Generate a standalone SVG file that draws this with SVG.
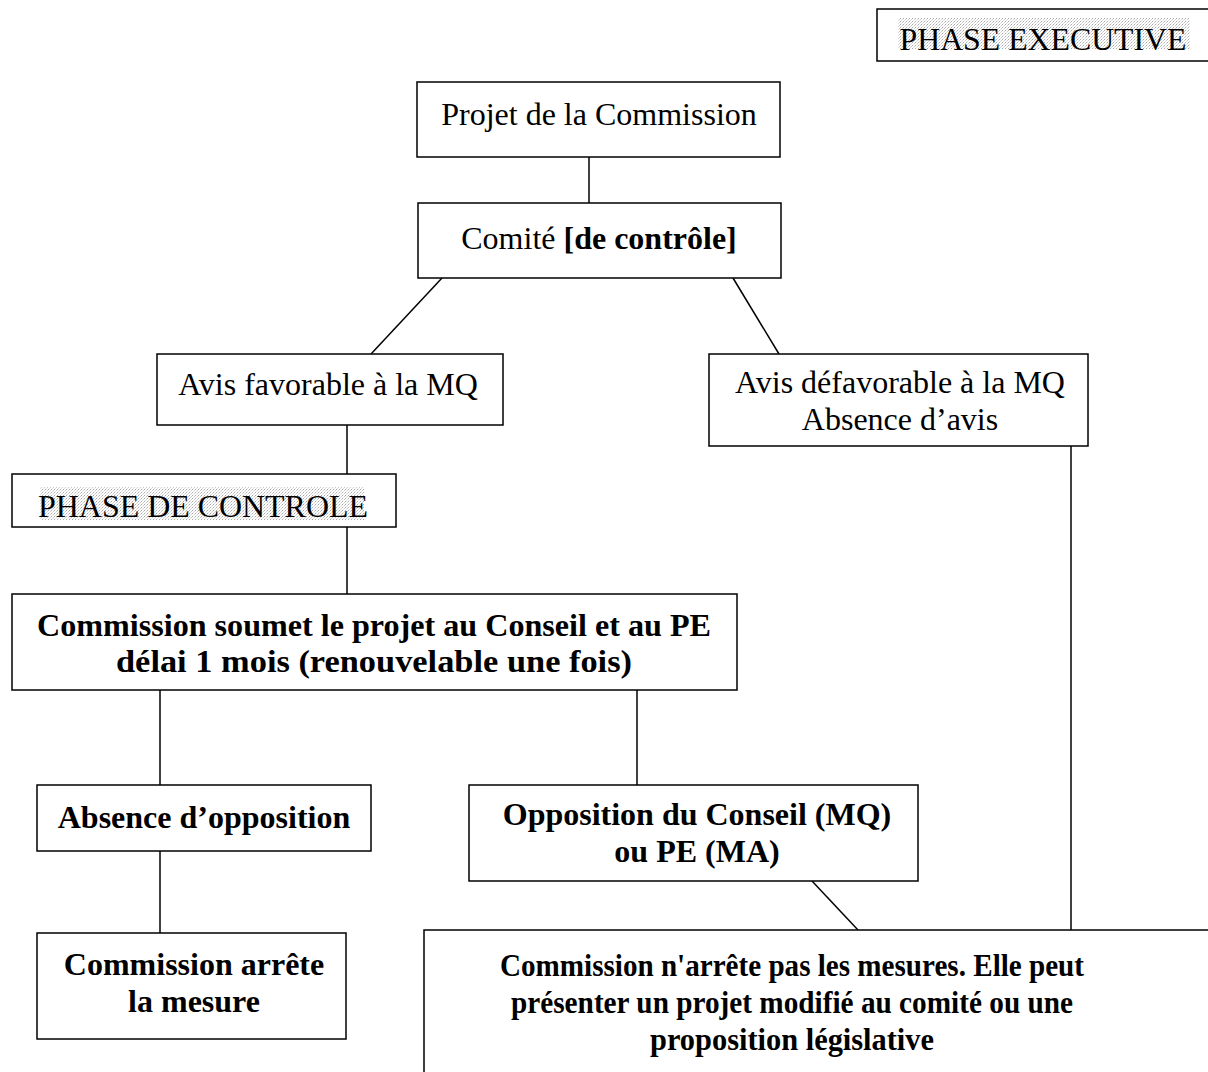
<svg xmlns="http://www.w3.org/2000/svg" width="1208" height="1072" viewBox="0 0 1208 1072">
<defs>
<pattern id="dots" width="3" height="3" patternUnits="userSpaceOnUse">
<rect width="3" height="3" fill="#fff"/>
<rect x="0" y="0" width="1" height="1" fill="#aaa"/>
<rect x="2" y="1" width="1" height="1" fill="#ccc"/>
<rect x="1" y="2" width="1" height="1" fill="#ddd"/>
</pattern>
</defs>
<style>
.box{fill:#fff;stroke:#000;stroke-width:1.5}
.ln{stroke:#000;stroke-width:1.5;fill:none}
.t{font-family:"Liberation Serif","Times New Roman",serif;font-size:32px;fill:#000;text-anchor:middle}
.b{font-family:"Liberation Serif","Times New Roman",serif;font-size:32px;font-weight:bold;fill:#000;text-anchor:middle}
.shade{fill:url(#dots)}
</style>
<rect width="1208" height="1072" fill="#fff"/>
<g id="connectors">
<line class="ln" x1="589" y1="157" x2="589" y2="203"/>
<line class="ln" x1="442" y1="278" x2="371" y2="354"/>
<line class="ln" x1="733" y1="278" x2="779" y2="354"/>
<line class="ln" x1="347" y1="425" x2="347" y2="474"/>
<line class="ln" x1="347" y1="527" x2="347" y2="594"/>
<line class="ln" x1="160" y1="690" x2="160" y2="785"/>
<line class="ln" x1="637" y1="690" x2="637" y2="785"/>
<line class="ln" x1="160" y1="851" x2="160" y2="933"/>
<line class="ln" x1="812" y1="881" x2="858" y2="930"/>
<line class="ln" x1="1071" y1="446" x2="1071" y2="930"/>
</g>
<g id="phase-executive">
<rect class="box" x="877" y="9" width="340" height="52"/>
<rect class="shade" x="898" y="18" width="292" height="31"/>
<text class="t" x="1043" y="50" textLength="287" lengthAdjust="spacingAndGlyphs">PHASE EXECUTIVE</text>
</g>
<g id="projet">
<rect class="box" x="417" y="82" width="363" height="75"/>
<text class="t" x="599" y="125">Projet de la Commission</text>
</g>
<g id="comite">
<rect class="box" x="418" y="203" width="363" height="75"/>
<text class="t" x="599" y="249">Comité <tspan font-weight="bold">[de contrôle]</tspan></text>
</g>
<g id="avis-favorable">
<rect class="box" x="157" y="354" width="346" height="71"/>
<text class="t" x="328" y="395">Avis favorable à la MQ</text>
</g>
<g id="avis-defavorable">
<rect class="box" x="709" y="354" width="379" height="92"/>
<text class="t" x="900" y="393">Avis défavorable à la MQ</text>
<text class="t" x="900" y="430">Absence d’avis</text>
</g>
<g id="phase-controle">
<rect class="box" x="12" y="474" width="384" height="53"/>
<rect class="shade" x="40" y="487" width="324" height="33"/>
<text class="t" x="203" y="517" textLength="330" lengthAdjust="spacingAndGlyphs">PHASE DE CONTROLE</text>
</g>
<g id="commission-soumet">
<rect class="box" x="12" y="594" width="725" height="96"/>
<text class="b" x="374" y="636" textLength="674" lengthAdjust="spacingAndGlyphs">Commission soumet le projet au Conseil et au PE</text>
<text class="b" x="374" y="672" textLength="516" lengthAdjust="spacingAndGlyphs">délai 1 mois (renouvelable une fois)</text>
</g>
<g id="absence-opposition">
<rect class="box" x="37" y="785" width="334" height="66"/>
<text class="b" x="204" y="828">Absence d’opposition</text>
</g>
<g id="opposition">
<rect class="box" x="469" y="785" width="449" height="96"/>
<text class="b" x="697" y="825">Opposition du Conseil (MQ)</text>
<text class="b" x="697" y="862">ou PE (MA)</text>
</g>
<g id="commission-arrete">
<rect class="box" x="37" y="933" width="309" height="106"/>
<text class="b" x="194" y="975">Commission arrête</text>
<text class="b" x="194" y="1012">la mesure</text>
</g>
<g id="commission-narrete">
<rect class="box" x="424" y="930" width="800" height="160"/>
<text class="b" x="792" y="976" textLength="584" lengthAdjust="spacingAndGlyphs">Commission n'arrête pas les mesures. Elle peut</text>
<text class="b" x="792" y="1013" textLength="562" lengthAdjust="spacingAndGlyphs">présenter un projet modifié au comité ou une</text>
<text class="b" x="792" y="1050" textLength="284" lengthAdjust="spacingAndGlyphs">proposition législative</text>
</g>
</svg>
